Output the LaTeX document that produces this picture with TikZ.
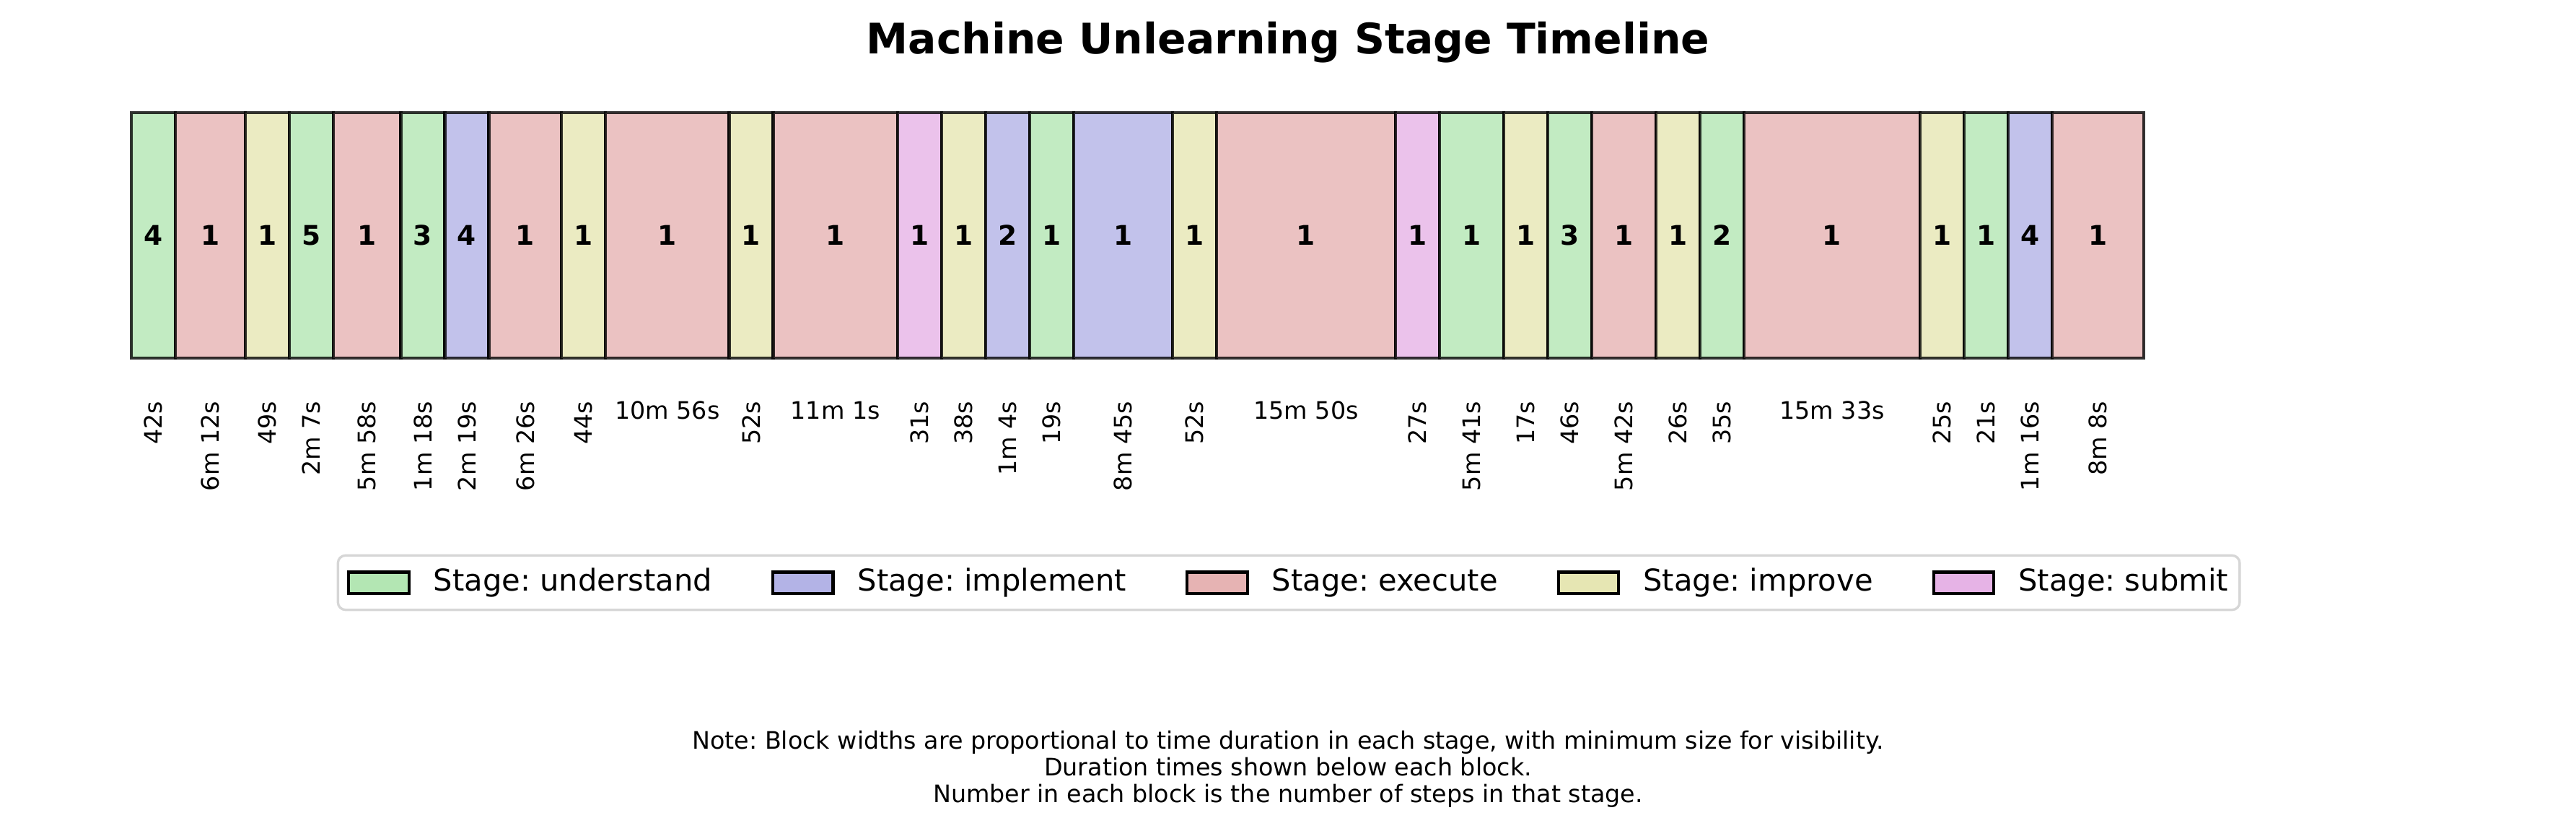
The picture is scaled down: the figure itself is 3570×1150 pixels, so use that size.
\documentclass[tikz,border=0pt]{standalone}
\usepackage{fontspec}
\setmainfont{DejaVu Sans}
\usetikzlibrary{positioning,fit}
\frenchspacing

\definecolor{understand}{HTML}{B3E6B3}
\definecolor{implement}{HTML}{B3B3E6}
\definecolor{execute}{HTML}{E6B3B3}
\definecolor{improve}{HTML}{E6E6B3}
\definecolor{submit}{HTML}{E6B3E6}

\begin{document}
\begin{tikzpicture}[x=0.24pt, y=-0.24pt,
        block/.style={rectangle, fill=#1!80!white, draw=black, draw opacity=0.8, line width=1pt,
            minimum height=81.6pt, inner sep=0pt, outer sep=0pt, font=\fontsize{9}{10.8}\selectfont\bfseries},
        time/.style={inner sep=0pt, font=\fontsize{8}{8.93}\selectfont},
        key/.style={rectangle, fill=#1, draw=black, line width=1pt, minimum width=20pt,
            minimum height=7pt, inner sep=0pt, outer sep=0pt},
        keytext/.style={inner sep=0pt, font=\fontsize{10}{12}\selectfont}]

    \useasboundingbox (0,0) rectangle (3570,1150);

    % Title
    \node[anchor=base, font=\fontsize{14}{16.8}\selectfont\bfseries] (title) at (1785,74) {Machine Unlearning Stage Timeline};

    % Blocks: stage / steps / seconds / duration
    \node[inner sep=0pt, outer sep=0pt, minimum size=0pt] (b0) at (182,326) {};
    \foreach \stage/\steps/\secs/\dur [count=\i, remember=\i as \j (initially 0)] in {
        understand/4/42/42s, execute/1/372/6m 12s, improve/1/49/49s, understand/5/127/2m 7s,
        execute/1/358/5m 58s, understand/3/78/1m 18s, implement/4/139/2m 19s, execute/1/386/6m 26s,
        improve/1/44/44s, execute/1/656/10m 56s, improve/1/52/52s, execute/1/661/11m 1s,
        submit/1/31/31s, improve/1/38/38s, implement/2/64/1m 4s, understand/1/19/19s,
        implement/1/525/8m 45s, improve/1/52/52s, execute/1/950/15m 50s, submit/1/27/27s,
        understand/1/341/5m 41s, improve/1/17/17s, understand/3/46/46s, execute/1/342/5m 42s,
        improve/1/26/26s, understand/2/35/35s, execute/1/933/15m 33s, improve/1/25/25s,
        understand/1/21/21s, implement/4/76/1m 16s, execute/1/488/8m 8s} {
        \pgfmathsetmacro\bw{max(61,0.261*\secs)}
        \node[block=\stage, minimum width=\bw*0.24pt, right=0pt of b\j] (b\i) {\steps};
        \ifdim\bw pt<150pt
            \node[time, rotate=90, below=14.2pt of b\i, anchor=east] (t\i) {\dur};
        \else
            \node[time, below=14.2pt of b\i] (t\i) {\dur};
        \fi
    }

    % Legend
    \node[key=understand] (k1) at (525,807) {};
    \node[keytext, right=8pt of k1] (l1) {Stage: understand};
    \node[key=implement, right=20pt of l1] (k2) {};
    \node[keytext, right=8pt of k2] (l2) {Stage: implement};
    \node[key=execute, right=20pt of l2] (k3) {};
    \node[keytext, right=8pt of k3] (l3) {Stage: execute};
    \node[key=improve, right=20pt of l3] (k4) {};
    \node[keytext, right=8pt of k4] (l4) {Stage: improve};
    \node[key=submit, right=20pt of l4] (k5) {};
    \node[keytext, right=8pt of k5] (l5) {Stage: submit};
    \node[fit=(k1)(l1)(l5), draw=black!16, line width=0.8pt, rounded corners=2.5pt,
        inner xsep=3.6pt, inner ysep=4pt] (legend) {};

    % Note
    \node[time, anchor=north, align=center] (note) at (1785,1011) {Note: Block widths are proportional to time duration in each stage, with minimum size for visibility.\\
        Duration times shown below each block.\\
        Number in each block is the number of steps in that stage.};

\end{tikzpicture}
\end{document}
